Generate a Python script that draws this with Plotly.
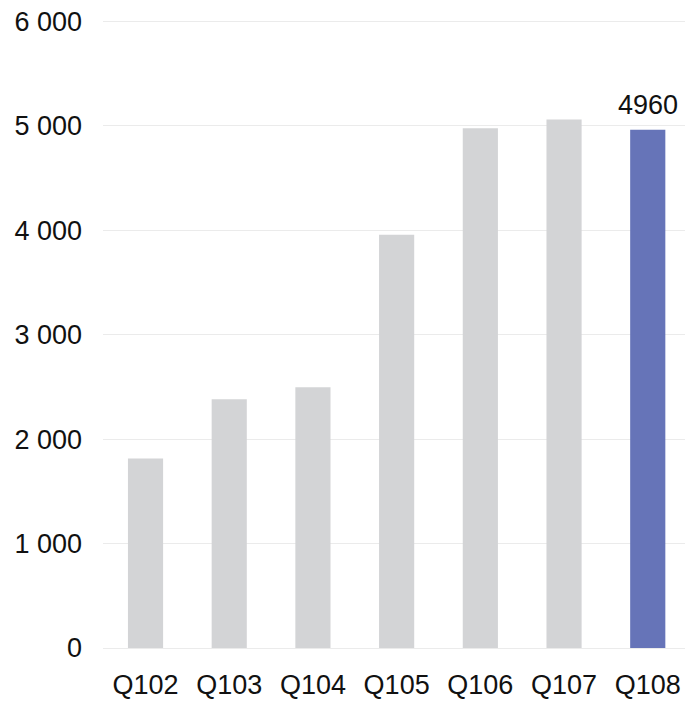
import plotly.graph_objects as go

# Quarterly totals
quarters = ["Q102", "Q103", "Q104", "Q105", "Q106", "Q107", "Q108"]
values = [1815, 2380, 2495, 3955, 4975, 5060, 4960]
y_ticks = [0, 1000, 2000, 3000, 4000, 5000, 6000]
y_tick_labels = ["0", "1 000", "2 000", "3 000", "4 000", "5 000", "6 000"]

GREY = "#d3d4d6"
BLUE = "#6674b8"
colors = [GREY] * (len(quarters) - 1) + [BLUE]

font = dict(family="Liberation Sans, Arial, sans-serif", size=27, color="#111111")

fig = go.Figure(
    go.Bar(
        x=quarters,
        y=values,
        marker=dict(color=colors, line=dict(width=0)),
        width=0.42,
        hoverinfo="skip",
    )
)

# Value callout over the latest quarter
fig.add_annotation(
    x=quarters[-1],
    y=values[-1],
    text=str(values[-1]),
    showarrow=False,
    yanchor="bottom",
    yshift=8,
    font=font,
)

fig.update_layout(
    width=685,
    height=703,
    margin=dict(l=103, r=0, t=17, b=55),
    paper_bgcolor="white",
    plot_bgcolor="white",
    font=font,
    showlegend=False,
    xaxis=dict(
        range=[-0.508, 6.445],
        showgrid=False,
        showline=False,
        zeroline=False,
        ticks="",
        ticklabelstandoff=18,
        tickfont=font,
    ),
    yaxis=dict(
        range=[0, 6040],
        tickvals=y_ticks,
        ticktext=y_tick_labels,
        showgrid=True,
        gridcolor="#ebebeb",
        gridwidth=1,
        zeroline=True,
        zerolinecolor="#ebebeb",
        zerolinewidth=1,
        showline=False,
        ticks="",
        ticklabelstandoff=20,
        tickfont=font,
    ),
)

fig.write_html("out.html")
